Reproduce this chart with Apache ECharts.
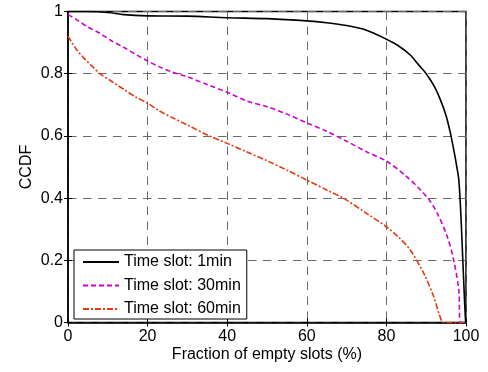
<!DOCTYPE html>
<html><head><meta charset="utf-8">
<script src="https://cdn.jsdelivr.net/npm/echarts@6/dist/echarts.min.js"></script>
<style>html,body{margin:0;padding:0;background:#fff}#c{width:488px;height:372px}</style>
</head><body><div id="c"></div>
<script>
var seriesNames = ['Time slot: 1min', 'Time slot: 30min', 'Time slot: 60min'];
var xTicks = [0, 20, 40, 60, 80, 100];
var yTicks = [0, 0.2, 0.4, 0.6, 0.8, 1];

var x1min = [0, 5, 10, 14, 20, 30, 40, 50, 60, 65, 70, 75, 80, 83, 86, 88, 90, 92, 93.6, 95, 96.1, 97, 97.7, 98.2, 98.7, 99.2, 99.6, 99.9];
var y1min = [1, 1, 0.997, 0.99, 0.986, 0.985, 0.98, 0.977, 0.970, 0.964, 0.955, 0.94, 0.911, 0.89, 0.86, 0.83, 0.80, 0.76, 0.715, 0.665, 0.608, 0.55, 0.50, 0.458, 0.35, 0.2, 0.08, 0];

var x30min = [0, 2, 5, 8, 11, 14, 17, 20, 23, 26, 30, 35, 40, 45, 50, 55, 60, 65, 70, 75, 80, 85, 88.6, 91, 92.8, 95.3, 96.9, 98.2, 98.6, 100];
var y30min = [0.99, 0.975, 0.95, 0.93, 0.905, 0.885, 0.862, 0.841, 0.822, 0.806, 0.79, 0.765, 0.74, 0.712, 0.694, 0.67, 0.642, 0.615, 0.583, 0.549, 0.519, 0.47, 0.426, 0.39, 0.351, 0.276, 0.201, 0.104, 0, 0];

var x60min = [0, 2, 4, 6, 8, 11, 14, 17, 20, 23, 26.5, 30, 35, 40, 45, 50, 55, 60, 65, 69.3, 75, 80, 83, 86, 89.4, 91.9, 93.2, 94.4, 100];
var y60min = [0.921, 0.88, 0.85, 0.825, 0.80, 0.775, 0.75, 0.725, 0.705, 0.68, 0.657, 0.635, 0.603, 0.576, 0.548, 0.52, 0.49, 0.458, 0.426, 0.399, 0.351, 0.308, 0.275, 0.233, 0.158, 0.083, 0.03, 0, 0];

function zip(xs, ys) { return xs.map(function (x, i) { return [x, ys[i]]; }); }

var FONT = 'Liberation Sans';
var gridLine = { show: true, lineStyle: { color: '#6a6a6a', width: 1, type: [8.5, 6.5] } };

var chart = echarts.init(document.getElementById('c'), null, { renderer: 'canvas' });
chart.setOption({
  animation: false,
  backgroundColor: '#fff',
  textStyle: { fontFamily: FONT },
  grid: { left: 68, right: 22, top: 11.5, bottom: 49.5, show: true, borderColor: '#000', borderWidth: 1.5, backgroundColor: '#fff' },
  xAxis: [{
    type: 'value', min: 0, max: 100, interval: 20,
    name: 'Fraction of empty slots (%)', nameLocation: 'middle', nameGap: 24, nameMoveOverlap: false,
    nameTextStyle: { fontSize: 16, color: '#000', fontFamily: FONT },
    axisLine: { show: true, lineStyle: { color: '#000', width: 1.5 } },
    axisTick: { show: true, inside: true, length: 4, lineStyle: { color: '#000' } },
    axisLabel: { fontSize: 16, color: '#000', margin: 6, fontFamily: FONT,
      formatter: function (v) { return xTicks.indexOf(v) >= 0 ? String(v) : ''; } },
    splitLine: gridLine
  }, {
    type: 'value', min: 0, max: 100, interval: 20, position: 'top',
    axisLine: { show: false }, axisTick: { show: true, inside: true, length: 4, lineStyle: { color: '#000' } },
    axisLabel: { show: false }, splitLine: { show: false }
  }],
  yAxis: [{
    type: 'value', min: 0, max: 1, interval: 0.2,
    name: 'CCDF', nameLocation: 'middle', nameGap: 33, nameMoveOverlap: false,
    nameTextStyle: { fontSize: 16, color: '#000', fontFamily: FONT },
    axisLine: { show: true, lineStyle: { color: '#000', width: 1.5 } },
    axisTick: { show: true, inside: true, length: 4, lineStyle: { color: '#000' } },
    axisLabel: { fontSize: 16, color: '#000', margin: 5, fontFamily: FONT,
      formatter: function (v) { var r = Math.round(v * 10) / 10; return yTicks.indexOf(r) >= 0 ? String(r) : ''; } },
    splitLine: gridLine
  }, {
    type: 'value', min: 0, max: 1, interval: 0.2, position: 'right',
    axisLine: { show: false }, axisTick: { show: true, inside: true, length: 4, lineStyle: { color: '#000' } },
    axisLabel: { show: false }, splitLine: { show: false }
  }],
  legend: {
    orient: 'vertical', left: 74, top: 250,
    backgroundColor: '#fff', borderColor: '#000', borderWidth: 1, borderRadius: 0,
    padding: [4, 6, 2, 8], itemGap: 7.5, itemWidth: 36, itemHeight: 14,
    itemStyle: { opacity: 0 },
    textStyle: { fontSize: 16, color: '#000', fontFamily: FONT },
    data: seriesNames
  },
  series: [
    { name: seriesNames[0], type: 'line', data: zip(x1min, y1min), showSymbol: false, symbol: 'none', smooth: 0.3,
      lineStyle: { color: '#000', width: 1.6, type: 'solid' }, itemStyle: { color: '#000' }, z: 3 },
    { name: seriesNames[1], type: 'line', data: zip(x30min, y30min), showSymbol: false, symbol: 'none', smooth: 0.3,
      lineStyle: { color: '#d000d0', width: 1.6, type: [5, 3] }, itemStyle: { color: '#d000d0' }, z: 3 },
    { name: seriesNames[2], type: 'line', data: zip(x60min, y60min), showSymbol: false, symbol: 'none', smooth: 0.3,
      lineStyle: { color: '#e63a10', width: 1.6, type: [6, 2, 2, 2] }, itemStyle: { color: '#e63a10' }, z: 3 }
  ]
});
</script></body></html>
